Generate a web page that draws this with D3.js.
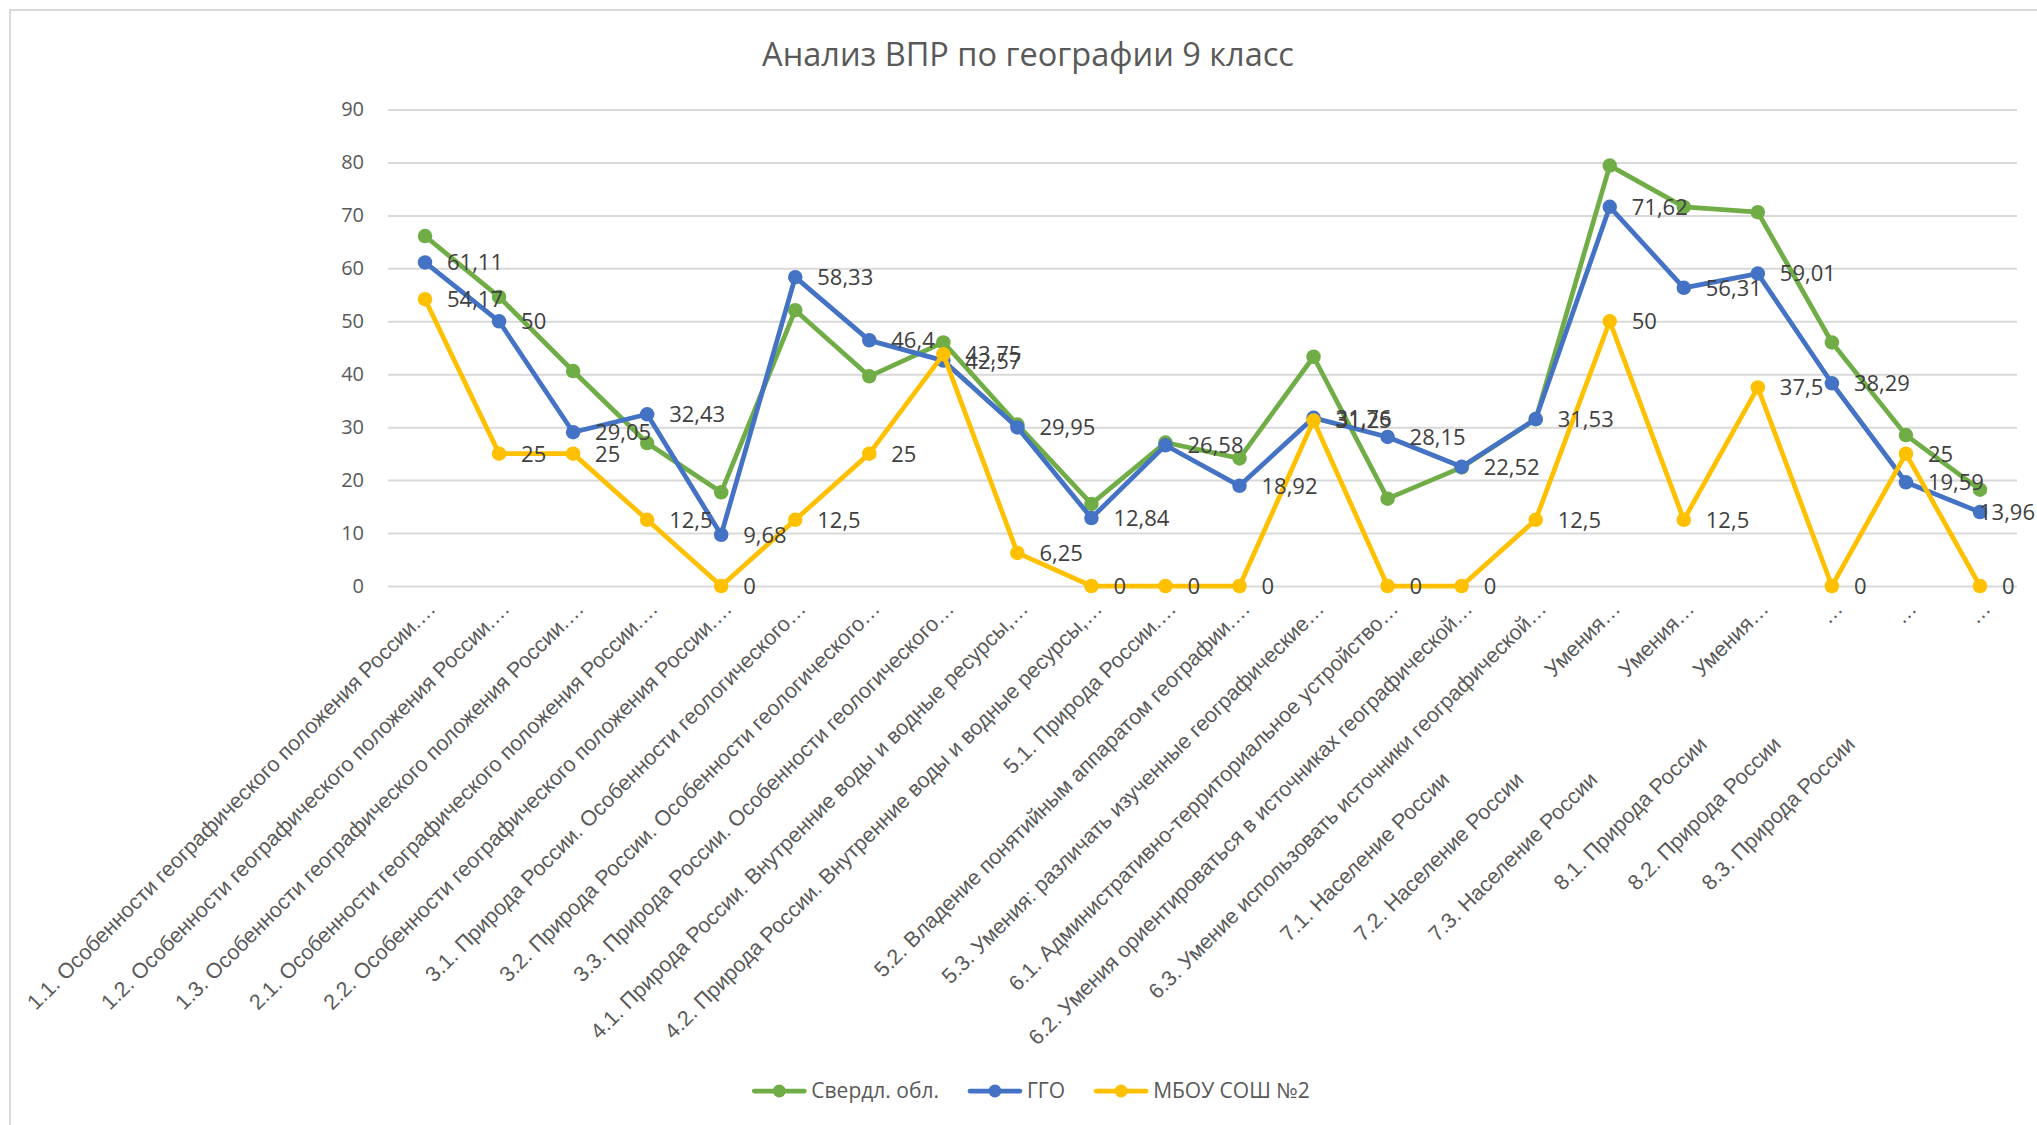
<!DOCTYPE html>
<html lang="ru">
<head>
<meta charset="utf-8">
<title>Анализ ВПР по географии 9 класс</title>
<script src="https://cdn.jsdelivr.net/npm/d3@7"></script>
<style>
  html, body { margin: 0; padding: 0; background: #ffffff; }
  svg { display: block; font-family: "Open Sans", "Noto Sans", sans-serif; }
</style>
</head>
<body>
<svg id="chart" width="2037" height="1125"></svg>
<script>
// Task names (category axis). A "\n" separates the wrapped tail shown at the tick end.
const categories = [
  "1.1. Особенности географического положения России.…",
  "1.2. Особенности географического положения России.…",
  "1.3. Особенности географического положения России.…",
  "2.1. Особенности географического положения России.…",
  "2.2. Особенности географического положения России.…",
  "3.1. Природа России. Особенности геологического…",
  "3.2. Природа России. Особенности геологического…",
  "3.3. Природа России. Особенности геологического…",
  "4.1. Природа России. Внутренние воды и водные ресурсы,…",
  "4.2. Природа России. Внутренние воды и водные ресурсы,…",
  "5.1. Природа России.…",
  "5.2. Владение понятийным аппаратом географии.…",
  "5.3. Умения: различать изученные географические…",
  "6.1. Административно-территориальное устройство…",
  "6.2. Умения ориентироваться в источниках географической…",
  "6.3. Умение использовать источники географической…",
  "7.1. Население России\nУмения…",
  "7.2. Население России\nУмения…",
  "7.3. Население России\nУмения…",
  "8.1. Природа России\n…",
  "8.2. Природа России\n…",
  "8.3. Природа России\n…"
];

const seriesNames = ["Свердл. обл.", "ГГО", "МБОУ СОШ №2"];
const seriesColors = ["#70ad47", "#4472c4", "#ffc000"];

// Percent of completion per task
const sverdlValues = [66.1, 54.6, 40.6, 27.0, 17.7, 52.1, 39.6, 46.0, 30.5, 15.5, 27.1,
                      24.1, 43.3, 16.5, 22.4, 31.5, 79.4, 71.6, 70.6, 46.0, 28.5, 18.2];
const ggoValues    = [61.11, 50, 29.05, 32.43, 9.68, 58.33, 46.4, 42.57, 29.95, 12.84, 26.58,
                      18.92, 31.76, 28.15, 22.52, 31.53, 71.62, 56.31, 59.01, 38.29, 19.59, 13.96];
const schoolValues = [54.17, 25, 25, 12.5, 0, 12.5, 25, 43.75, 6.25, 0, 0,
                      0, 31.25, 0, 0, 12.5, 50, 12.5, 37.5, 0, 25, 0];

const yTicks = [0, 10, 20, 30, 40, 50, 60, 70, 80, 90];
const chartTitle = "Анализ ВПР по географии 9 класс";

// which series carry value labels
const labelled = [false, true, true];

const series = [sverdlValues, ggoValues, schoolValues].map((values, i) => ({
  name: seriesNames[i], color: seriesColors[i], values, labelled: labelled[i]
}));

const W = 2037, H = 1125;
const plot = { left: 388, right: 2017, top: 109.5, bottom: 586 };
const textGrey = "#595959";
const labelGrey = "#404040";
const gridGrey = "#d9d9d9";

const svg = d3.select("#chart");

svg.append("rect").attr("width", W).attr("height", H).attr("fill", "#ffffff");
// chart frame (continues past the visible area on the right and bottom)
svg.append("rect")
  .attr("x", 10).attr("y", 10).attr("width", W + 100).attr("height", H + 100)
  .attr("fill", "none").attr("stroke", gridGrey).attr("stroke-width", 2);

svg.append("text")
  .attr("x", 1028).attr("y", 66)
  .attr("text-anchor", "middle")
  .attr("fill", textGrey)
  .style("font-size", "32.5px")
  .text(chartTitle);

const x = d3.scaleBand()
  .domain(d3.range(categories.length))
  .range([plot.left, plot.right]);
const cx = i => x(i) + x.bandwidth() / 2;

const y = d3.scaleLinear().domain([0, 90]).range([plot.bottom, plot.top]);

// value axis with gridlines
const yAxis = svg.append("g")
  .attr("transform", `translate(${plot.left},0)`)
  .call(d3.axisLeft(y)
    .tickValues(yTicks)
    .tickSizeInner(-(plot.right - plot.left))
    .tickSizeOuter(0)
    .tickPadding(24));
yAxis.select(".domain").remove();
yAxis.selectAll(".tick line").attr("stroke", gridGrey).attr("stroke-width", 2);
yAxis.selectAll(".tick text")
  .attr("fill", textGrey)
  .style("font-size", "20px")
  .style("font-family", "'Open Sans', sans-serif");

// category axis with rotated task names (tick groups are already centred on each band)
const catFont = 21.5;
// distance along the label line from the tick end back to where the wrapped head ends
const headEnd = { "Умения…": 242, "…": 192 };
const xAxis = svg.append("g")
  .attr("transform", `translate(0,${plot.bottom})`)
  .call(d3.axisBottom(x).tickSize(0).tickFormat(""));
xAxis.select(".domain").remove();
xAxis.selectAll(".tick text").remove();
xAxis.selectAll(".tick").each(function (d) {
  const parts = categories[d].split("\n");
  const g = d3.select(this).append("g")
    .attr("transform", "translate(12,24) rotate(-45)");
  const tail = parts[parts.length - 1];
  g.append("text")
    .attr("x", 0).attr("y", 0)
    .attr("text-anchor", "end")
    .attr("fill", textGrey)
    .style("font-size", catFont + "px")
    .text(tail);
  if (parts.length > 1) {
    g.append("text")
      .attr("x", -headEnd[tail]).attr("y", 0)
      .attr("text-anchor", "end")
      .attr("fill", textGrey)
      .style("font-size", catFont + "px")
      .text(parts[0]);
  }
});

const line = d3.line().x((v, i) => cx(i)).y(v => y(v));

const seriesG = svg.append("g");
series.forEach(s => {
  const g = seriesG.append("g");
  g.append("path")
    .attr("d", line(s.values))
    .attr("fill", "none")
    .attr("stroke", s.color)
    .attr("stroke-width", 4.75)
    .attr("stroke-linejoin", "round")
    .attr("stroke-linecap", "round");
  g.selectAll("circle")
    .data(s.values)
    .join("circle")
    .attr("cx", (v, i) => cx(i))
    .attr("cy", v => y(v))
    .attr("r", 7.25)
    .attr("fill", s.color);
});

// value labels on top of all lines, kept inside the chart's right edge
const labelsG = svg.append("g");
series.filter(s => s.labelled).forEach(s => {
  labelsG.append("g").selectAll("text")
    .data(s.values)
    .join("text")
    .attr("y", v => y(v))
    .attr("dy", "0.36em")
    .attr("fill", labelGrey)
    .style("font-size", "22px")
    .text(v => String(v).replace(".", ","))
    .attr("x", function (v, i) {
      const w = this.getComputedTextLength();
      return Math.min(cx(i) + 22, W - 2 - w);
    });
});

// legend
const legendY = 1091;
const legend = svg.append("g");
let lx = 0;
series.forEach(s => {
  const item = legend.append("g");
  item.append("line")
    .attr("x1", 0).attr("x2", 50).attr("y1", 0).attr("y2", 0)
    .attr("stroke", s.color).attr("stroke-width", 4.75).attr("stroke-linecap", "round");
  item.append("circle").attr("cx", 25).attr("cy", 0).attr("r", 6.5).attr("fill", s.color);
  const t = item.append("text")
    .attr("x", 57).attr("y", 0).attr("dy", "0.35em")
    .attr("fill", textGrey)
    .style("font-size", "21px")
    .text(s.name);
  const w = 57 + t.node().getComputedTextLength();
  item.attr("transform", `translate(${lx},0)`);
  lx += w + 31;
});
const legendWidth = lx - 31;
legend.attr("transform", `translate(${1032 - legendWidth / 2},${legendY})`);
</script>
</body>
</html>
